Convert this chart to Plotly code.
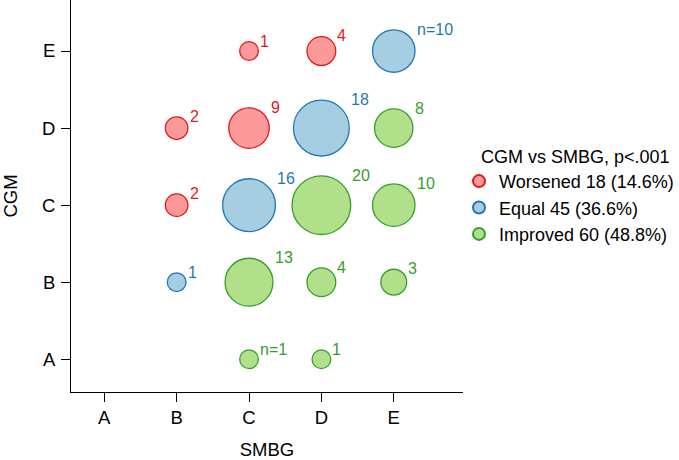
import math
import plotly.graph_objects as go

categories = ["A", "B", "C", "D", "E"]

worsened_smbg = ["C", "D", "B", "C", "B"]
worsened_cgm = ["E", "E", "D", "D", "C"]
worsened_n = [1, 4, 2, 9, 2]
worsened_labels = ["1", "4", "2", "9", "2"]

equal_smbg = ["E", "D", "C", "B"]
equal_cgm = ["E", "D", "C", "B"]
equal_n = [10, 18, 16, 1]
equal_labels = ["n=10", "18", "16", "1"]

improved_smbg = ["E", "D", "E", "C", "D", "E", "C", "D"]
improved_cgm = ["D", "C", "C", "B", "B", "B", "A", "A"]
improved_n = [8, 20, 10, 13, 4, 3, 1, 1]
improved_labels = ["8", "20", "10", "13", "4", "3", "n=1", "1"]

series_names = ["Worsened 18 (14.6%)", "Equal 45 (36.6%)", "Improved 60 (48.8%)"]
legend_title = "CGM vs SMBG, p<.001"

FONT = "Arial, Liberation Sans, sans-serif"
FS = 18.5
LFS = 18
LW = 1.3
styles = [
    ("#FB9A99", "#E31A1C"),
    ("#A6CEE3", "#1F78B4"),
    ("#B2DF8A", "#33A02C"),
]


def outer_diam(n):
    return math.sqrt(231.6 + 168.4 * n)


fig = go.Figure()
annotations = []
groups = [
    (worsened_smbg, worsened_cgm, worsened_n, worsened_labels),
    (equal_smbg, equal_cgm, equal_n, equal_labels),
    (improved_smbg, improved_cgm, improved_n, improved_labels),
]
for (xs, ys, ns, labs), name, (fill, line) in zip(groups, series_names, styles):
    sizes = [outer_diam(n) - LW for n in ns]
    fig.add_trace(go.Scatter(
        x=xs, y=ys, mode="markers", name=name,
        marker=dict(size=sizes, color=fill, opacity=1,
                    line=dict(color=line, width=LW)),
        hoverinfo="skip",
    ))
    for x, y, n, lab in zip(xs, ys, ns, labs):
        r = outer_diam(n) / 2
        annotations.append(dict(
            x=x, y=y, xref="x", yref="y", text=lab, showarrow=False,
            xanchor="left", yanchor="middle", xshift=r - 1, yshift=r,
            font=dict(family=FONT, size=16, color=line),
        ))

axis_common = dict(
    type="category", categoryorder="array", categoryarray=categories,
    showgrid=False, zeroline=False, showline=True, linecolor="black",
    linewidth=1, ticks="outside", ticklen=9, tickwidth=1, tickcolor="black",
    tickfont=dict(family=FONT, size=FS, color="black"),
)

fig.update_layout(
    width=679, height=460,
    margin=dict(l=71, r=216, t=0, b=68),
    paper_bgcolor="white", plot_bgcolor="white",
    font=dict(family=FONT, size=FS, color="black"),
    xaxis=dict(range=[-0.46, 4.957],
               title=dict(text="SMBG", font=dict(size=FS), standoff=20),
               **axis_common),
    yaxis=dict(range=[-0.425, 4.662], ticklabelstandoff=2,
               title=dict(text="CGM", font=dict(size=FS), standoff=24),
               **axis_common),
    legend=dict(
        title=dict(text="\u00a0\u00a0\u00a0\u00a0" + legend_title, font=dict(size=LFS)),
        x=0.99, xanchor="left", y=0.5, yanchor="middle",
        itemsizing="constant", font=dict(size=LFS),
        bgcolor="rgba(0,0,0,0)", borderwidth=0, tracegroupgap=0,
    ),
    annotations=annotations,
    showlegend=True,
)

fig.write_html("out.html")
